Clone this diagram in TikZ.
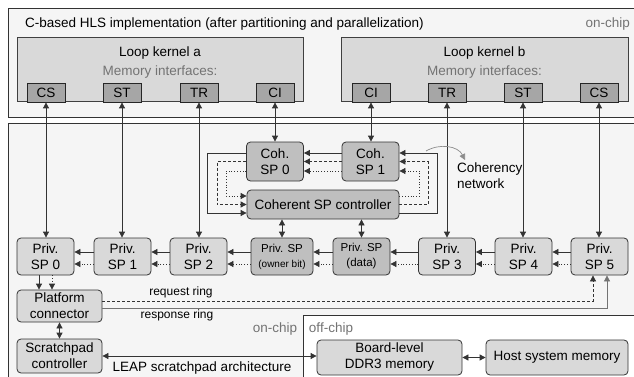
\documentclass[tikz,border=0pt]{standalone}
\usepackage{fontspec}
\setmainfont{Liberation Sans}
\usetikzlibrary{arrows.meta}

\begin{document}
\begin{tikzpicture}[x=1pt, y=-1pt, font=\fontsize{13.5}{16}\selectfont]
    % Styles
    \tikzstyle{region} = [draw=black!80, line width=0.8pt, fill=gray!8]
    \tikzstyle{kernel} = [rectangle, draw=black!75, line width=0.8pt, fill=gray!30]
    \tikzstyle{iface} = [rectangle, draw=black!85, line width=0.8pt, fill=gray!70, minimum width=38pt, minimum height=19pt, inner sep=0pt]
    \tikzstyle{priv} = [rectangle, rounded corners=4pt, draw=black!80, line width=0.8pt, fill=gray!30, align=center, inner sep=0pt, minimum width=57pt, minimum height=37pt]
    \tikzstyle{coh} = [priv, fill=gray!50]
    \tikzstyle{arrow} = [-{Triangle[length=6pt,width=6pt]}, line width=0.8pt, draw=black!80]
    \tikzstyle{twoway} = [arrow, {Triangle[length=6pt,width=6pt]}-{Triangle[length=6pt,width=6pt]}]
    \tikzstyle{note} = [text=black!55, inner sep=0pt]
    \tikzstyle{small} = [font=\fontsize{12}{14}\selectfont, inner sep=0pt]

    \useasboundingbox (0,0) rectangle (634,377);
    \clip (0,0) rectangle (634,377);

    % Regions
    \draw[region] (8,8) rectangle (645,117);
    \draw[region] (8,385) -- (8,123) -- (645,123) -- (645,315) -- (303,315) -- (303,385);
    \node[anchor=west, inner sep=0pt] (title) at (25,24) {C-based HLS implementation (after partitioning and parallelization)};
    \node[note, anchor=east] (onchipT) at (630,24) {on-chip};
    \node[note] (onchipB) at (275,329) {on-chip};
    \node[note] (offchip) at (331,329) {off-chip};

    % Loop kernels
    \node[kernel, minimum width=286pt, minimum height=64pt] (KA) at (160,69) {};
    \node[kernel, minimum width=287pt, minimum height=64pt] (KB) at (484.5,69) {};
    \node (KAname) at (160,53) {Loop kernel a};
    \node[note] (KAmem) at (160,72) {Memory interfaces:};
    \node (KBname) at (484.5,53) {Loop kernel b};
    \node[note] (KBmem) at (484.5,72) {Memory interfaces:};
    \foreach \n/\t/\x in {CSa/CS/46, STa/ST/122, TRa/TR/199, CIa/CI/275, CIb/CI/371, TRb/TR/447, STb/ST/523, CSb/CS/599}
        \node[iface] (\n) at (\x,92.5) {\t};

    % Private scratchpads
    \node[priv] (P0) at (45.5,256.5) {Priv.\\SP 0};
    \node[priv] (P1) at (122.5,256.5) {Priv.\\SP 1};
    \node[priv] (P2) at (198.5,256.5) {Priv.\\SP 2};
    \node[coh, minimum width=62pt, font=\fontsize{11.5}{15}\selectfont] (POB) at (282,256.5) {Priv. SP\\{\fontsize{10}{15}\selectfont(owner bit)}};
    \node[coh, font=\fontsize{11.5}{15}\selectfont] (PD) at (361.5,256.5) {Priv. SP\\(data)};
    \node[priv] (P3) at (447,256.5) {Priv.\\SP 3};
    \node[priv] (P4) at (523.5,256.5) {Priv.\\SP 4};
    \node[priv] (P5) at (599.5,256.5) {Priv.\\SP 5};

    % Coherent scratchpads
    \node[coh, minimum height=39pt] (C0) at (275,161.5) {Coh.\\SP 0};
    \node[coh, minimum height=39pt] (C1) at (370.5,161.5) {Coh.\\SP 1};
    \node[coh, minimum width=152pt, minimum height=29pt] (CC) at (323,204.5) {Coherent SP controller};
    \node[anchor=west, align=left, inner sep=0pt] (CN) at (457,176) {Coherency\\network};
    \coordinate (cnA) at (426,151);

    % Platform and memories
    \node[priv, minimum width=85pt, minimum height=32pt] (PC) at (59.5,306) {Platform\\connector};
    \node[priv, minimum width=85pt, minimum height=34pt] (SC) at (59.5,356) {Scratchpad\\controller};
    \node[priv, minimum width=145pt, minimum height=35pt] (DDR) at (389.5,357.5) {Board-level\\DDR3 memory};
    \node[priv, minimum width=142pt, minimum height=35pt] (HM) at (557,357.5) {Host system memory};
    \node[small] (req) at (181,292) {request ring};
    \node[small] (resp) at (177,315) {response ring};
    \node[inner sep=0pt] (leap) at (202,368) {LEAP scratchpad architecture};

    % Arrows: memory interfaces
    \foreach \a/\b in {CSa/P0, STa/P1, TRa/P2, CIa/C0, CIb/C1, TRb/P3, STb/P4, CSb/P5}
        \draw[twoway] (\a.south) -- (\a.south |- \b.north);

    % Arrows: coherency network
    \draw[arrow] ([yshift=8.5pt]C0.west) -- ++(-39,0) |- ([yshift=-8.5pt]CC.west);
    \draw[arrow, dash pattern=on 3pt off 2pt] (C0.west) -- ++(-29,0) |- (CC.west);
    \draw[arrow, dotted] ([yshift=-9.5pt]C0.west) -- ++(-20,0) |- ([yshift=8.5pt]CC.west);
    \draw[arrow] ([yshift=8.5pt]C1.west) -- ([yshift=8.5pt]C0.east);
    \draw[arrow, dash pattern=on 3pt off 2pt] (C1.west) -- (C0.east);
    \draw[arrow, dotted] ([yshift=-9.5pt]C1.west) -- ([yshift=-9.5pt]C0.east);
    \draw[arrow] ([yshift=-8.5pt]CC.east) -- ++(38,0) |- ([yshift=8.5pt]C1.east);
    \draw[arrow, dash pattern=on 3pt off 2pt] (CC.east) -- ++(29,0) |- (C1.east);
    \draw[arrow, dotted] ([yshift=8.5pt]CC.east) -- ++(20,0) |- ([yshift=-9.5pt]C1.east);
    \draw[arrow, draw=black!45, line width=0.7pt] (cnA) .. controls (440,143) and (458,146) .. (465,160);
    \draw[twoway] (POB.north |- CC.south) -- (POB.north);
    \draw[twoway] (PD.north |- CC.south) -- (PD.north);

    % Arrows: private scratchpad chain
    \foreach \a/\b in {P1/P0, P2/P1, POB/P2, PD/POB, P3/PD, P4/P3, P5/P4} {
        \draw[arrow] ([yshift=4.5pt]\a.west) -- ([yshift=4.5pt]\b.east);
        \draw[arrow, dotted] ([yshift=-7.5pt]\a.west) -- ([yshift=-7.5pt]\b.east);
    }

    % Arrows: rings and memories
    \draw[arrow] ([xshift=-6.5pt]P0.south) -- ([xshift=-6.5pt]P0.south |- PC.north);
    \draw[arrow, dotted] ([xshift=6.5pt]P0.south) -- ([xshift=6.5pt]P0.south |- PC.north);
    \draw[arrow, dash pattern=on 3pt off 2pt] ([yshift=5pt]PC.east) -| ([xshift=-6.5pt]P5.south);
    \draw[arrow, draw=black!55] ([yshift=-2pt]PC.east) -| ([xshift=7.5pt]P5.south);
    \draw[twoway] (PC) -- (SC);
    \draw[twoway] (SC.east) -- (SC.east -| DDR.west);
    \draw[twoway] (DDR) -- (HM);
\end{tikzpicture}
\end{document}
